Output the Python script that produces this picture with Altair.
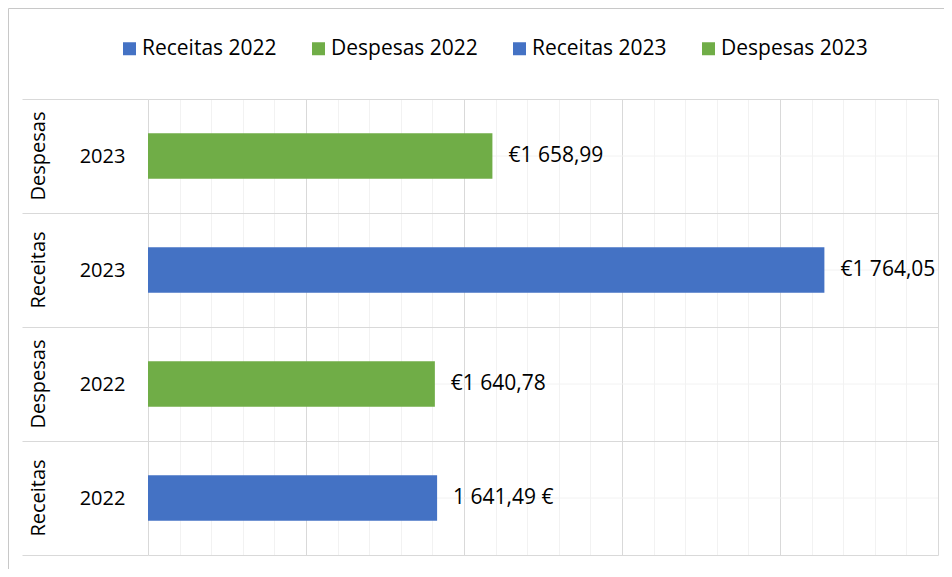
import altair as alt
import pandas as pd

# ---- data ----
series = ["Receitas 2022", "Despesas 2022", "Receitas 2023", "Despesas 2023"]
tipos = ["Receitas", "Despesas", "Receitas", "Despesas"]
anos = ["2022", "2022", "2023", "2023"]
valores = [1641.49, 1640.78, 1764.05, 1658.99]
rotulos = ["1 641,49 €", "€1 640,78", "€1 764,05", "€1 658,99"]
ordem = ["Despesas 2023", "Receitas 2023", "Despesas 2022", "Receitas 2022"]
cores = ["#4472C4", "#70AD47", "#4472C4", "#70AD47"]
x_min, x_max = 1550, 1800
x_ticks = list(range(1550, 1801, 10))

df = pd.DataFrame({"serie": series, "tipo": tipos, "ano": anos,
                   "valor": valores, "rotulo": rotulos})
frame_df = pd.DataFrame({"a": [0]})

FONT = "Open Sans"

y_enc = alt.Y(
    "serie:N", sort=ordem, title=None,
    scale=alt.Scale(paddingInner=0, paddingOuter=0),
    axis=alt.Axis(
        labelExpr="slice(datum.label, -4)",
        labelFont=FONT, labelFontSize=20, labelColor="#000000",
        labelAlign="center", labelBaseline="middle", labelPadding=-80,
        tickSize=126, tickColor="#d9d9d9", tickBand="extent",
        grid=True, gridColor="#d9d9d9", domain=False,
    ),
)
x_scale = alt.Scale(domain=[x_min, x_max], nice=False, zero=False)
x_enc = alt.X(
    "valor:Q", scale=x_scale, title=None,
    axis=alt.Axis(
        values=x_ticks, labels=False, ticks=False, domain=False, grid=True,
        gridColor={"condition": {"test": "datum.value % 50 === 0", "value": "#d9d9d9"},
                   "value": "#f2f2f2"},
    ),
)

frame = alt.Chart(frame_df).mark_rect(
    filled=False, stroke="#c8c8c8", strokeWidth=1
).encode(
    x=alt.value(-139.5), x2=alt.value(830), y=alt.value(-90.5), y2=alt.value(600)
)

center_rules = alt.Chart(df).mark_rule(color="#f2f2f2", strokeWidth=1).encode(
    y=y_enc, x=alt.value(0), x2=alt.value(790)
)

bars = alt.Chart(df).mark_bar(height=alt.RelativeBandSize(0.4)).encode(
    y=y_enc,
    x=x_enc,
    x2=alt.datum(x_min),
    color=alt.Color(
        "serie:N", title=None,
        scale=alt.Scale(domain=series, range=cores),
        legend=alt.Legend(
            orient="none", legendX=-29, legendY=-61, direction="horizontal",
            columns=4, symbolType="square", symbolSize=169, symbolStrokeWidth=0,
            labelFont=FONT, labelFontSize=21, labelColor="#000000",
            labelOffset=2, columnPadding=31, padding=0,
        ),
    ),
)

labels = alt.Chart(df).mark_text(
    align="left", baseline="middle", dx=16, font=FONT, fontSize=21, color="#000000"
).encode(y=y_enc, x=x_enc, text="rotulo:N")

tipo_labels = alt.Chart(df).mark_text(
    angle=270, align="center", baseline="middle", font=FONT, fontSize=20, color="#000000"
).encode(y=y_enc, x=alt.value(-109), text="tipo:N")

chart = alt.layer(frame, center_rules, bars, labels, tipo_labels).properties(
    width=790, height=456,
    autosize=alt.AutoSizeParams(type="none"),
    padding={"left": 140, "top": 91, "right": 6, "bottom": 14},
).configure_view(stroke=None)

chart.save("out.html", embed_options={"renderer": "svg", "actions": False})
